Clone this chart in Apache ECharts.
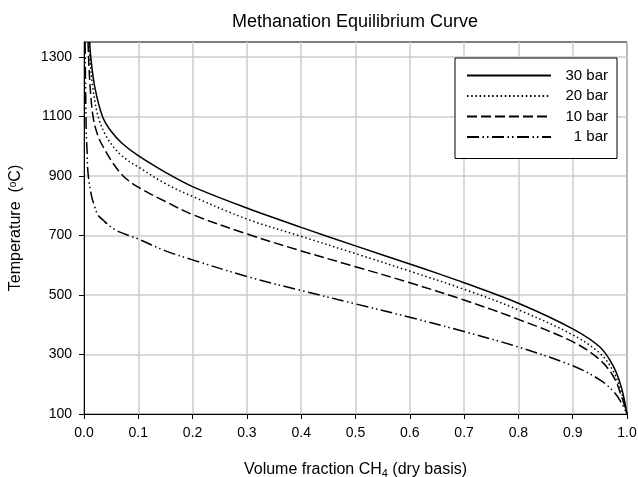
<!DOCTYPE html>
<html>
<head>
<meta charset="utf-8">
<script src="https://cdn.jsdelivr.net/npm/echarts@6/dist/echarts.min.js"></script>
<style>
  html, body { margin: 0; padding: 0; background: #fff; }
  #chart { width: 638px; height: 477px; }
</style>
</head>
<body>
<div id="chart"></div>
<script>
// Equilibrium CH4 fraction (dry basis) vs. temperature at four pressures
const fraction30 = [0.0105, 0.0124, 0.0197, 0.034, 0.05, 0.07, 0.1, 0.15, 0.2, 0.3, 0.4, 0.5, 0.6, 0.655, 0.7, 0.8, 0.9, 0.95, 0.975, 0.99, 1.0];
const temp30     = [1350, 1300, 1200, 1100, 1050, 1010, 968, 912, 864, 792, 727, 665, 604, 570, 541, 472, 386, 325, 260, 187, 100];

const fraction20 = [0.0087, 0.0105, 0.016, 0.026, 0.041, 0.06, 0.08, 0.1, 0.15, 0.2, 0.3, 0.4, 0.5, 0.6, 0.7, 0.8, 0.9, 0.95, 0.975, 0.99, 1.0];
const temp20     = [1350, 1300, 1200, 1100, 1033, 985, 953, 930, 874, 831, 755, 697, 639, 580, 519, 450, 366, 304, 243, 170, 100];

const fraction10 = [0.0074, 0.0105, 0.0166, 0.026, 0.038, 0.053, 0.072, 0.1, 0.15, 0.2, 0.3, 0.4, 0.5, 0.6, 0.7, 0.8, 0.9, 0.95, 0.975, 0.99, 1.0];
const temp10     = [1350, 1222, 1100, 1033, 989, 944, 900, 862, 814, 770, 705, 648, 595, 541, 483, 418, 343, 282, 226, 159, 100];

const fraction1 = [0.002, 0.004, 0.0055, 0.0074, 0.0136, 0.02, 0.026, 0.036, 0.05, 0.065, 0.085, 0.1, 0.15, 0.2, 0.3, 0.4, 0.5, 0.6, 0.7, 0.8, 0.9, 0.95, 0.975, 0.99, 1.0];
const temp1     = [1350, 1060, 990, 910, 835, 795, 768, 750, 728, 712, 698, 688, 648, 618, 562, 515, 470, 425, 377, 325, 262, 215, 176, 137, 100];

const seriesNames = ['30 bar', '20 bar', '10 bar', '1 bar'];
const yTickValues = [100, 300, 500, 700, 900, 1100, 1300];

function pairs(xs, ys) {
  return xs.map((x, i) => [x, ys[i]]);
}

const dashStyles = [
  'solid',
  [1.5, 2.7],
  [10, 4],
  [12, 3.5, 1.5, 3, 1.5, 3.5]
];
const curveData = [
  pairs(fraction30, temp30),
  pairs(fraction20, temp20),
  pairs(fraction10, temp10),
  pairs(fraction1, temp1)
];

const FONT = 'Arial, "Liberation Sans", sans-serif';
const chart = echarts.init(document.getElementById('chart'), null, { renderer: 'canvas' });

chart.setOption({
  animation: false,
  backgroundColor: '#fff',
  title: {
    text: 'Methanation Equilibrium Curve',
    left: 350,
    top: 8,
    textAlign: 'center',
    textStyle: { fontFamily: FONT, fontSize: 18, fontWeight: 'normal', color: '#000' }
  },
  grid: {
    left: 84, right: 11, top: 42, bottom: 63,
    outerBoundsMode: 'none',
    containLabel: false,
    show: true, borderColor: '#000', borderWidth: 1, backgroundColor: 'transparent'
  },
  legend: {
    orient: 'vertical',
    left: 455, top: 58,
    padding: [10, 9, 14, 11],
    itemWidth: 84, itemHeight: 14, itemGap: 5.5,
    borderColor: '#000', borderWidth: 1, borderRadius: 0,
    backgroundColor: '#fff',
    data: seriesNames,
    itemStyle: { opacity: 0 },
    formatter: name => '{t|' + name + '}',
    textStyle: {
      fontFamily: FONT, fontSize: 15, color: '#000',
      rich: { t: { width: 52, align: 'right', fontFamily: FONT, fontSize: 15 } }
    }
  },
  xAxis: {
    type: 'value',
    min: 0, max: 1, interval: 0.1,
    name: 'Volume fraction CH{sub|4} (dry basis)',
    nameLocation: 'middle',
    nameGap: 46,
    nameTextStyle: {
      fontFamily: FONT, fontSize: 16, color: '#000',
      rich: { sub: { fontFamily: FONT, fontSize: 11, verticalAlign: 'bottom', padding: [8, 0, 0, 0] } }
    },
    axisLine: { onZero: false, lineStyle: { color: '#000', width: 1 } },
    axisTick: { show: true, inside: false, length: 5, lineStyle: { color: '#000' } },
    axisLabel: { fontFamily: FONT, fontSize: 14, color: '#000', margin: 12, formatter: v => v.toFixed(1) },
    splitLine: { show: true, lineStyle: { color: '#cdcdcd', width: 1.5 } }
  },
  yAxis: {
    type: 'value',
    min: 100, max: 1350,
    name: 'Temperature  ({sup|o}C)',
    nameLocation: 'middle',
    nameRotate: 90,
    nameGap: 60,
    nameTextStyle: {
      fontFamily: FONT, fontSize: 16, color: '#000',
      rich: { sup: { fontFamily: FONT, fontSize: 10, verticalAlign: 'top', padding: [0, 0, 6, 0] } }
    },
    axisLine: { show: true, onZero: false, lineStyle: { color: '#000', width: 1 } },
    axisTick: { show: true, inside: false, length: 5, customValues: yTickValues, lineStyle: { color: '#000' } },
    axisLabel: {
      fontFamily: FONT, fontSize: 14, color: '#000', margin: 12,
      customValues: yTickValues, formatter: v => String(v)
    },
    splitLine: { show: true, lineStyle: { color: '#cdcdcd', width: 1.5 } }
  },
  series: seriesNames.map((name, i) => ({
    name: name,
    type: 'line',
    data: curveData[i],
    smooth: 0.35,
    showSymbol: false,
    symbol: 'none',
    clip: true,
    lineStyle: { color: '#000', width: 1.5, type: dashStyles[i] },
    itemStyle: { color: '#000' }
  }))
});
</script>
</body>
</html>
